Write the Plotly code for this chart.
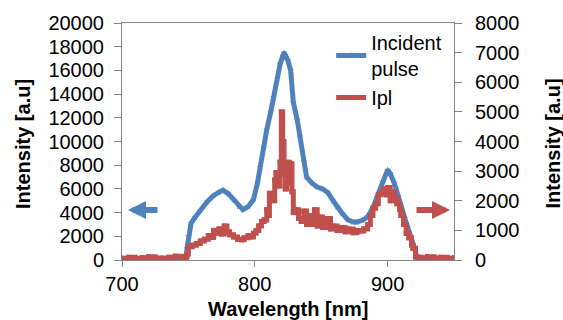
import plotly.graph_objects as go

# ---- data ----
wl_incident = [700, 710, 720, 730, 740, 748, 749, 750, 752, 755, 759, 764, 769, 773, 776, 780,
               784, 788, 791, 795, 799, 802, 804, 807, 809, 812, 814, 817, 819, 821, 822, 823,
               825, 827, 829, 832, 834, 837, 839, 843, 847, 851, 855, 859, 862, 866, 870, 874,
               877, 881, 885, 889, 892, 896, 900, 902, 905, 908, 910, 913, 915, 918, 920, 922,
               924, 930, 940, 950]
incident = [0, 0, 0, 0, 0, 0, 1000, 2000, 3100, 3600, 4200, 4900, 5450, 5750, 5900, 5600,
            5050, 4500, 4250, 4500, 5100, 6500, 7850, 9500, 11000, 12500, 13750, 15300, 16500, 17200, 17500, 17300,
            16800, 16000, 13300, 11800, 10400, 8300, 7000, 6500, 6150, 6000, 5700, 5000, 4450, 3900, 3400, 3200,
            3200, 3350, 3650, 4400, 5300, 6600, 7600, 7300, 6500, 5400, 4500, 3500, 2800, 1900, 1100, 250,
            0, 0, 0, 0]

wl_ipl = [700, 705, 710, 715, 720, 725, 730, 735, 740, 745, 748, 749, 750, 753, 756, 759, 762, 765,
          767, 769, 771, 773, 775, 777, 779, 781, 784, 787, 790, 792, 795, 797, 799, 801, 803, 805,
          807, 809, 810, 811, 813, 815, 816, 818, 819, 820, 821, 822, 823, 824, 825, 826, 827, 828,
          829, 831, 833, 835, 837, 839, 841, 843, 845, 847, 849, 851, 854, 857, 859, 862, 865, 868,
          871, 874, 877, 880, 882, 885, 887, 889, 891, 893, 895, 897, 899, 900, 902, 904, 905, 907,
          909, 910, 912, 914, 916, 918, 919, 921, 925, 930, 935, 940, 945, 950]
ipl = [60, 90, 50, 80, 110, 70, 60, 90, 130, 80, 100, 200, 450, 500, 560, 640, 700, 820,
       760, 1000, 900, 1050, 880, 1150, 950, 850, 780, 700, 680, 750, 820, 780, 900, 1000, 1150, 1300,
       1350, 1700, 1500, 2250, 2000, 2700, 2950, 2500, 3300, 5000, 4000, 2900, 2400, 2800, 3300, 2600, 3250, 2300,
       1600, 1700, 1400, 1300, 1650, 1200, 1500, 1200, 1700, 1150, 1450, 1100, 1400, 1050, 1150, 1000, 1100, 950,
       1050, 920, 1000, 980, 1050, 1200, 1500, 1750, 1900, 2200, 2250, 2400, 2200, 2450, 2000, 2300, 2100, 1900,
       1700, 1500, 1200, 900, 750, 500, 400, 100, 80, 110, 70, 90, 60, 80]

x_ticks = [700, 800, 900]
y1_ticks = list(range(0, 20001, 2000))
y2_ticks = list(range(0, 8001, 1000))

BLUE = "#4F81BD"
RED = "#C0504D"
AXIS = "#868686"
FONT = "Liberation Sans, Arial, sans-serif"

fig = go.Figure()
fig.add_trace(go.Scatter(
    x=wl_incident, y=incident, name="Incident<br>pulse", mode="lines+markers",
    line=dict(color=BLUE, width=5), marker=dict(symbol="star", size=5, color=BLUE),
    yaxis="y"))
fig.add_trace(go.Scatter(
    x=wl_ipl, y=ipl, name="Ipl", mode="lines+markers",
    line=dict(color=RED, width=5, shape="hv"), marker=dict(symbol="square", size=5, color=RED),
    yaxis="y2"))

fig.update_layout(
    width=563, height=320,
    margin=dict(l=122, r=109, t=23, b=60),
    paper_bgcolor="white", plot_bgcolor="white",
    font=dict(family=FONT, size=20, color="black"),
    showlegend=True,
    legend=dict(x=0.63, y=1.0, xanchor="left", yanchor="top", bgcolor="rgba(0,0,0,0)",
                font=dict(size=20), tracegroupgap=0, itemwidth=30),
    xaxis=dict(range=[700, 950], tickvals=x_ticks, ticktext=[str(v) for v in x_ticks],
               showgrid=False, zeroline=False,
               showline=True, linecolor=AXIS, linewidth=1, mirror=True,
               ticks="outside", ticklen=6, tickcolor=AXIS),
    yaxis=dict(range=[0, 20000], tickvals=y1_ticks, ticktext=[str(v) for v in y1_ticks],
               showgrid=False, zeroline=False,
               showline=True, linecolor=AXIS, linewidth=1,
               ticks="outside", ticklen=7, tickcolor=AXIS, ticklabelstandoff=6),
    yaxis2=dict(range=[0, 8000], tickvals=y2_ticks, ticktext=[str(v) for v in y2_ticks],
                overlaying="y", side="right",
                showgrid=False, zeroline=False, showline=True, linecolor=AXIS, linewidth=1,
                ticks="outside", ticklen=7, tickcolor=AXIS, ticklabelstandoff=9),
    annotations=[
        dict(text="<b>Intensity [a.u]</b>", xref="paper", yref="paper", x=-0.298, y=0.49,
             textangle=-90, showarrow=False, xanchor="center", yanchor="middle"),
        dict(text="<b>Intensity [a.u]</b>", xref="paper", yref="paper", x=1.297, y=0.49,
             textangle=-90, showarrow=False, xanchor="center", yanchor="middle"),
        dict(text="<b>Wavelength [nm]</b>", xref="paper", yref="paper", x=0.5, y=-0.207,
             showarrow=False, xanchor="center", yanchor="middle"),
        dict(text="", x=704.5, y=4220, xref="x", yref="y", axref="pixel", ayref="pixel",
             ax=31, ay=0, showarrow=True, arrowhead=2, arrowsize=0.6, arrowwidth=6, arrowcolor=BLUE),
        dict(text="", x=947, y=4220, xref="x", yref="y", axref="pixel", ayref="pixel",
             ax=-35, ay=0, showarrow=True, arrowhead=2, arrowsize=0.6, arrowwidth=6, arrowcolor=RED),
    ],
)

fig.write_html("out.html", config={"displayModeBar": False},
               post_script="document.body.style.margin='0px';")
